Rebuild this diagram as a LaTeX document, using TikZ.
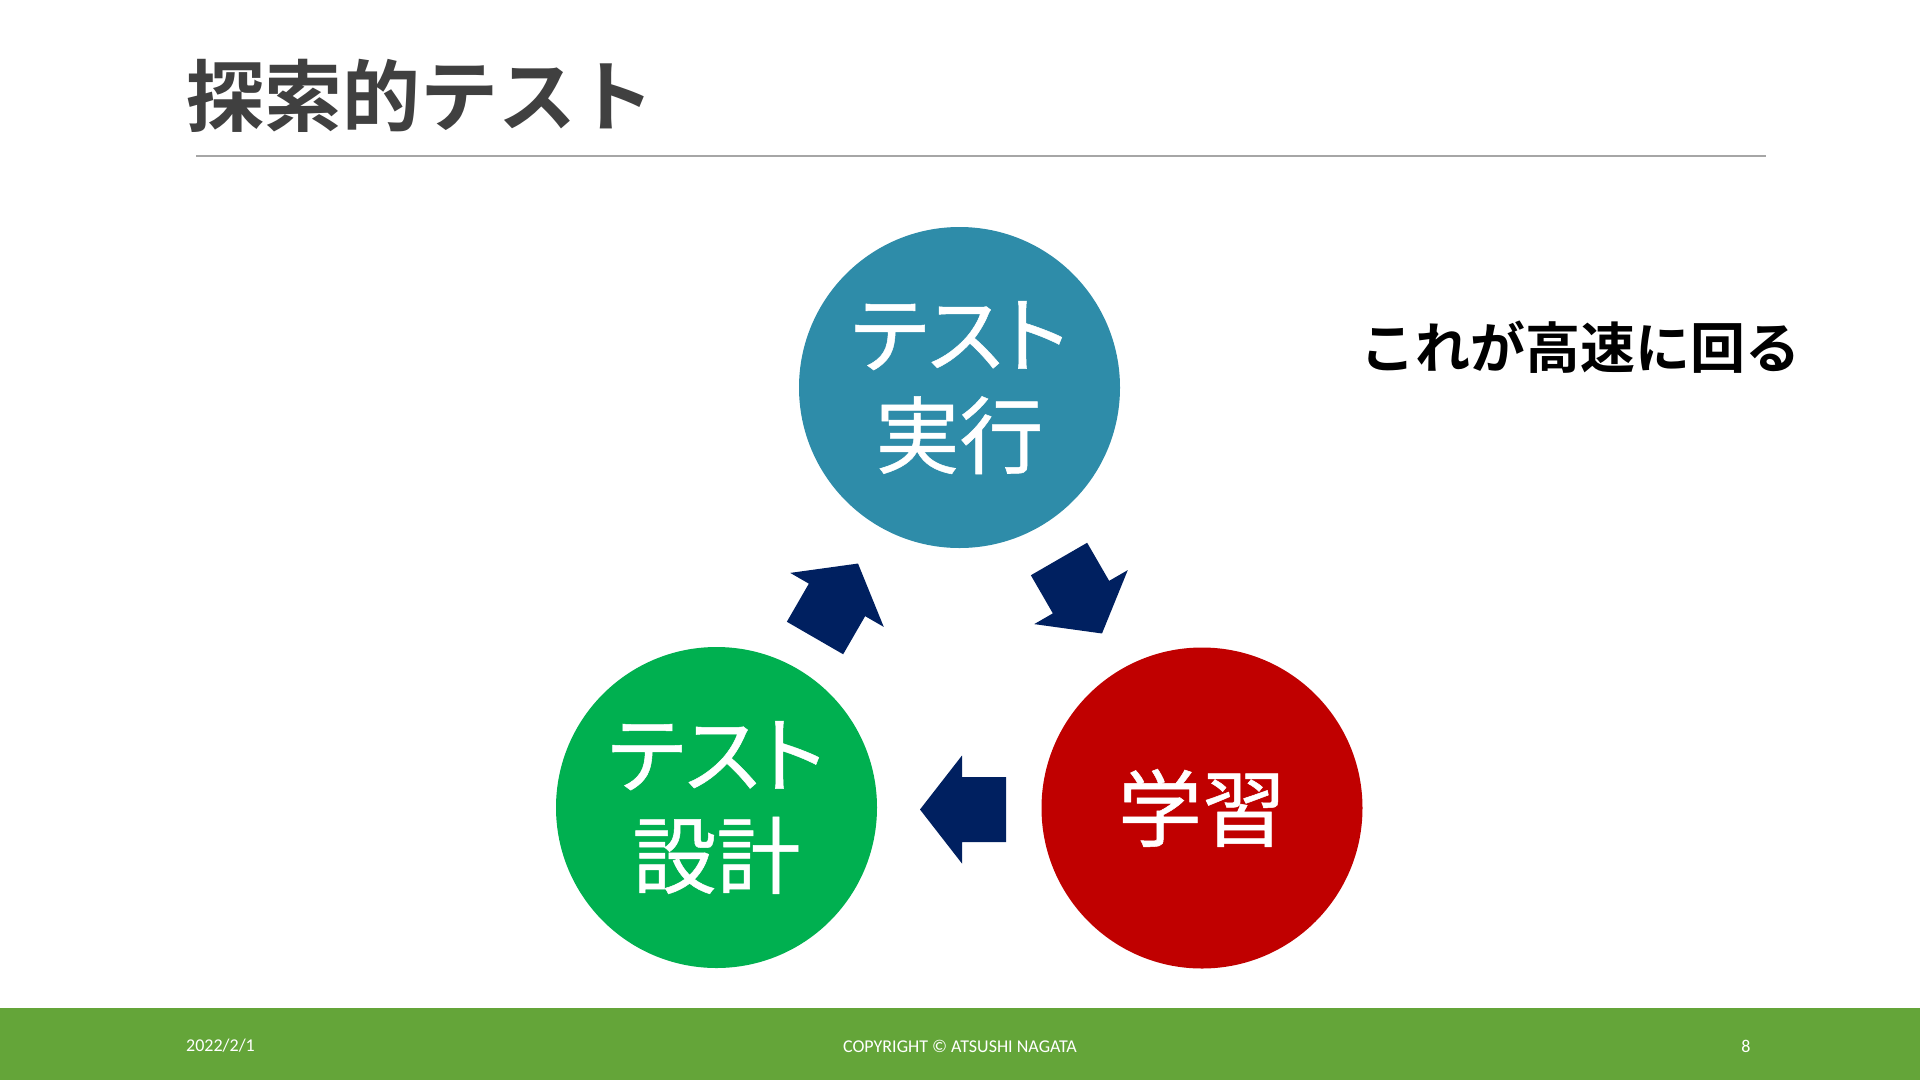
\documentclass[tikz,border=0pt]{standalone}
\usepackage{fontspec}
\setmainfont{Carlito}
\newfontfamily\jp[RawFeature=+palt, FakeBold=0.6]{Noto Sans CJK JP}
\newfontfamily\jpb{Noto Sans CJK JP Bold}
\definecolor{tealc}{HTML}{2E8CA9}
\definecolor{greenc}{HTML}{00B050}
\definecolor{redc}{HTML}{C00000}
\definecolor{navyc}{HTML}{002060}
\definecolor{footc}{HTML}{64A539}
\definecolor{titlec}{HTML}{404040}
\definecolor{rulec}{HTML}{A6A6A6}
\tikzset{
  bubble/.style={circle, minimum size=321pt, inner sep=0pt, text=white,
    align=center, font=\jp\fontsize{84}{101}\selectfont},
  blockarrow/.pic={\fill[navyc] (0,-32.5) -- (44,-32.5) -- (44,-54) -- (86,0)
    -- (44,54) -- (44,32.5) -- (0,32.5) -- cycle;},
  foot/.style={text=white, inner sep=0pt, font=\fontsize{18}{21}\selectfont}
}
\begin{document}
\begin{tikzpicture}[x=1pt,y=-1pt]
\useasboundingbox (0,0) rectangle (1920,1080);
\fill[white] (0,0) rectangle (1920,1080);
% title
\node[anchor=west, inner sep=0pt, text=titlec, font=\jpb\fontsize{78}{90}\selectfont] (title) at (186,96) {探索的テスト};
\draw[rulec, line width=1.5pt] (196,156) coordinate (r1) -- (1766,156) coordinate (r2);
% circles
\node[bubble, fill=tealc] (exec) at (959.5,387.5) {テスト\\実行};
\node[bubble, fill=redc] (learn) at (1202,808) {学習};
\node[bubble, fill=greenc] (design) at (716.5,807.5) {テスト\\設計};
% arrows
\pic[rotate=-60] at (1059,559) {blockarrow};
\pic[rotate=180] at (1006,809.5) {blockarrow};
\pic[rotate=60] at (815,638) {blockarrow};
% side note
\node[inner sep=0pt, font=\jpb\fontsize{55}{60}\selectfont] (note) at (1580,347) {これが高速に回る};
% footer
\fill[footc] (0,1008) rectangle (1920,1080);
\node[foot, anchor=west] (date) at (186,1046) {2022/2/1};
\node[foot] (copy) at (960,1046) {COPYRIGHT © ATSUSHI NAGATA};
\node[foot] (page) at (1746,1046) {8};
\end{tikzpicture}
\end{document}
